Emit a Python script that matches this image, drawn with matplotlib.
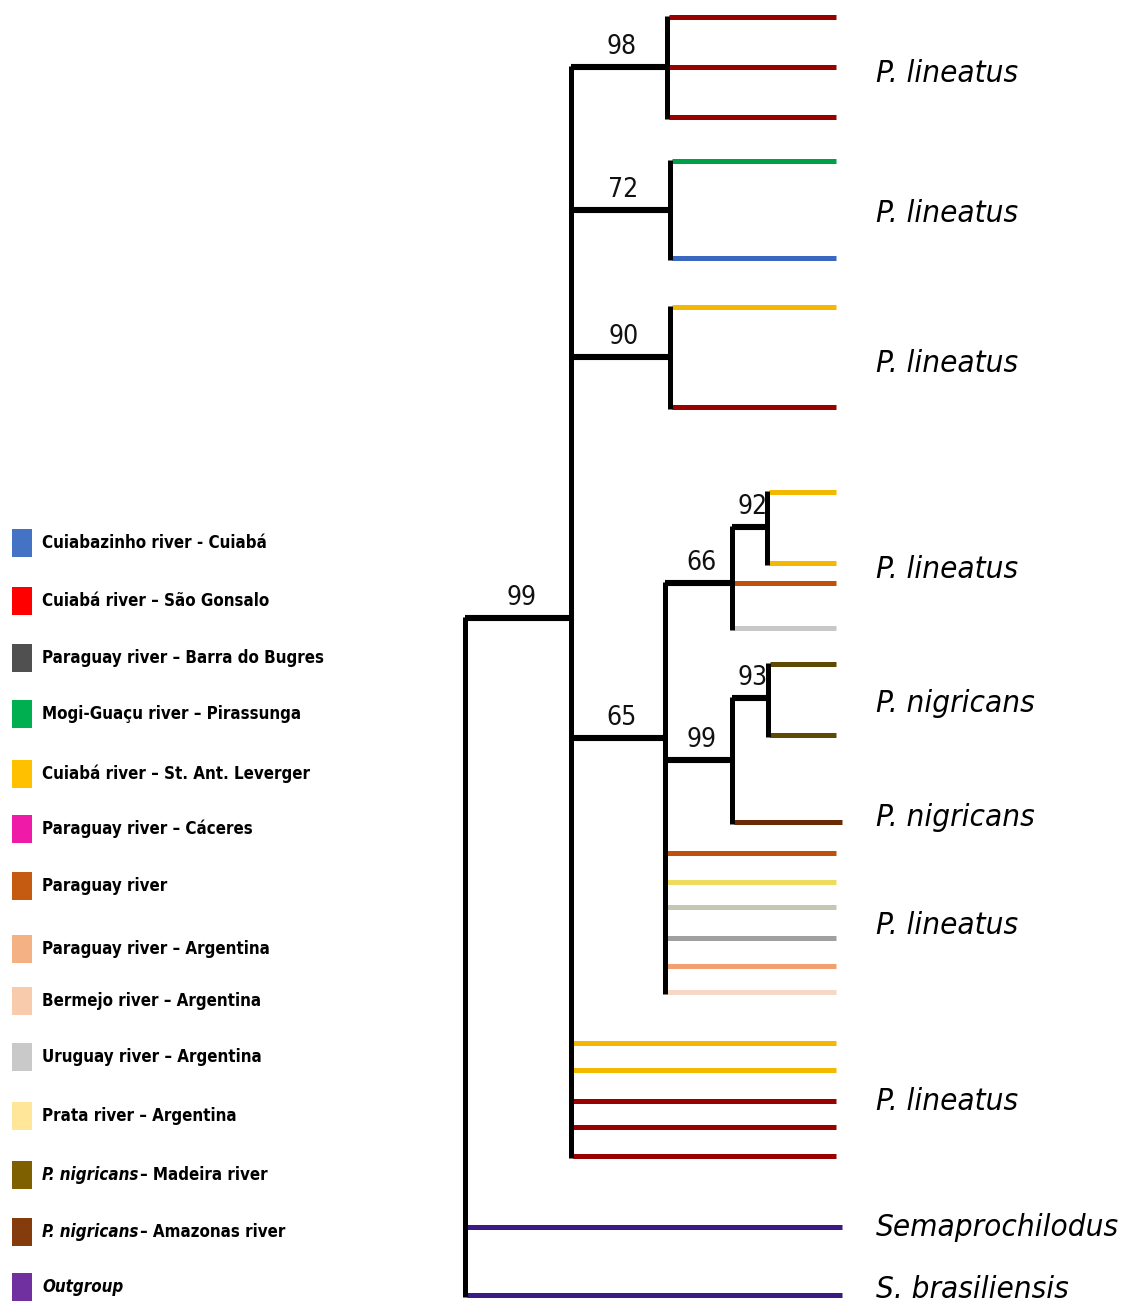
import matplotlib
matplotlib.use("Agg")
import matplotlib.pyplot as plt
from matplotlib.patches import Rectangle

# ---------------- data ----------------
legend_labels = [
    ("Cuiabazinho river - Cuiabá", None),
    ("Cuiabá river – São Gonsalo", None),
    ("Paraguay river – Barra do Bugres", None),
    ("Mogi-Guaçu river – Pirassunga", None),
    ("Cuiabá river – St. Ant. Leverger", None),
    ("Paraguay river – Cáceres", None),
    ("Paraguay river", None),
    ("Paraguay river – Argentina", None),
    ("Bermejo river – Argentina", None),
    ("Uruguay river – Argentina", None),
    ("Prata river – Argentina", None),
    ("– Madeira river", "P. nigricans"),
    ("– Amazonas river", "P. nigricans"),
    ("Outgroup", "italic"),
]
legend_colors = ["#4472C4", "#FF0000", "#505050", "#00B050", "#FFC000", "#F01AA8",
                 "#C55A11", "#F4B183", "#F8CBAD", "#C9C9C9", "#FFE699", "#7F6000",
                 "#843C0C", "#7030A0"]
legend_y = [543, 601, 658, 714, 774, 829, 886, 949, 1001, 1057, 1116, 1175, 1232, 1287]

# internal nodes: id -> (depth x, y, parent)
node_ids = ["root", "B", "n98", "n72", "n90", "n65", "n66", "n92", "n99", "n93"]
node_x = [465, 571, 667, 670, 670, 665, 732, 767, 732, 768]
node_y = [618, 618, 67, 210, 357, 738, 583, 527, 760, 698]
node_parent = [None, "root", "B", "B", "B", "B", "n65", "n66", "n65", "n99"]
node_support = [None, "99", "98", "72", "90", "65", "66", "92", "99", "93"]

# leaves
leaf_y = [17, 67, 117, 161, 258, 307, 407, 492, 563, 583, 628, 664, 735, 822,
          853, 882, 907, 938, 966, 992, 1043, 1070, 1101, 1127, 1156, 1227, 1295]
leaf_parent = ["n98", "n98", "n98", "n72", "n72", "n90", "n90", "n92", "n92", "n66",
               "n66", "n93", "n93", "n99", "n65", "n65", "n65", "n65", "n65", "n65",
               "B", "B", "B", "B", "B", "root", "root"]
leaf_color = ["#990000", "#990000", "#990000", "#00A04A", "#3A68C0", "#F5B800", "#990000",
              "#F5B800", "#F5B800", "#C0500A", "#C8C8C8", "#5E4A05", "#5E4A05", "#6A2A08",
              "#C0500A", "#EEDC60", "#C2C8B4", "#A0A0A0", "#F2A070", "#F6D8C6",
              "#F5B800", "#F5B800", "#990000", "#990000", "#990000", "#3C1A84", "#3C1A84"]
leaf_end = [836] * 13 + [842] + [836] * 11 + [842, 842]

species_labels = ["P. lineatus", "P. lineatus", "P. lineatus", "P. lineatus",
                  "P. nigricans", "P. nigricans", "P. lineatus", "P. lineatus",
                  "Semaprochilodus", "S. brasiliensis"]
species_y = [73, 213, 363, 570, 703, 818, 925, 1101, 1227, 1290]

# ---------------- drawing ----------------
W, H = 1126, 1306
fig = plt.figure(figsize=(W / 100, H / 100), dpi=100)
ax = fig.add_axes([0, 0, 1, 1])
ax.set_xlim(0, W)
ax.set_ylim(H, 0)
ax.axis("off")

FAM = "DejaVu Sans"
ST = "condensed"
lw = 3.6
nodes = {n: (x, y, p) for n, x, y, p in zip(node_ids, node_x, node_y, node_parent)}

# stems of internal nodes
for n, x, y, p in zip(node_ids, node_x, node_y, node_parent):
    if p is not None:
        px = nodes[p][0]
        ax.plot([px, x], [y, y], color="black", lw=lw + 0.8, solid_capstyle="butt", zorder=3)

# verticals
for n, x, y, p in zip(node_ids, node_x, node_y, node_parent):
    ys = [y]
    ys += [node_y[i] for i, q in enumerate(node_parent) if q == n]
    ys += [leaf_y[i] for i, q in enumerate(leaf_parent) if q == n]
    ax.plot([x, x], [min(ys) - 1.5, max(ys) + 1.5], color="black", lw=lw,
            solid_capstyle="butt", zorder=4)

# leaves
for y, p, c, e in zip(leaf_y, leaf_parent, leaf_color, leaf_end):
    px = nodes[p][0]
    ax.plot([px + 2, e], [y, y], color=c, lw=lw, solid_capstyle="butt", zorder=2)

# support values
for n, x, y, p, s in zip(node_ids, node_x, node_y, node_parent, node_support):
    if s is None:
        continue
    px = nodes[p][0]
    ax.text((px + x) / 2 + 3, y - 7, s, ha="center", va="bottom",
            fontsize=19, family=FAM, stretch=ST, color="#111111", zorder=5)

# species labels
for t, y in zip(species_labels, species_y):
    ax.text(876, y, t, ha="left", va="center", fontsize=22.5, style="italic",
            family=FAM, stretch=ST, color="black")

# legend
LFS = 12.2
for (lab, kind), c, y in zip(legend_labels, legend_colors, legend_y):
    ax.add_patch(Rectangle((12, y - 14), 20, 28, facecolor=c, edgecolor="none"))
    if kind is None:
        ax.text(42, y, lab, ha="left", va="center", fontsize=LFS, weight="bold",
                family=FAM, stretch=ST)
    elif kind == "italic":
        ax.text(42, y, lab, ha="left", va="center", fontsize=LFS, weight="bold",
                style="italic", family=FAM, stretch=ST)
    else:
        t1 = ax.text(42, y, kind, ha="left", va="center", fontsize=LFS, weight="bold",
                     style="italic", family=FAM, stretch=ST)
        fig.canvas.draw()
        bb = t1.get_window_extent()
        x1 = ax.transData.inverted().transform((bb.x1, bb.y0))[0]
        ax.text(x1 + 2, y, lab, ha="left", va="center", fontsize=LFS, weight="bold",
                family=FAM, stretch=ST)

fig.savefig("out.png", dpi=100, facecolor="white")
